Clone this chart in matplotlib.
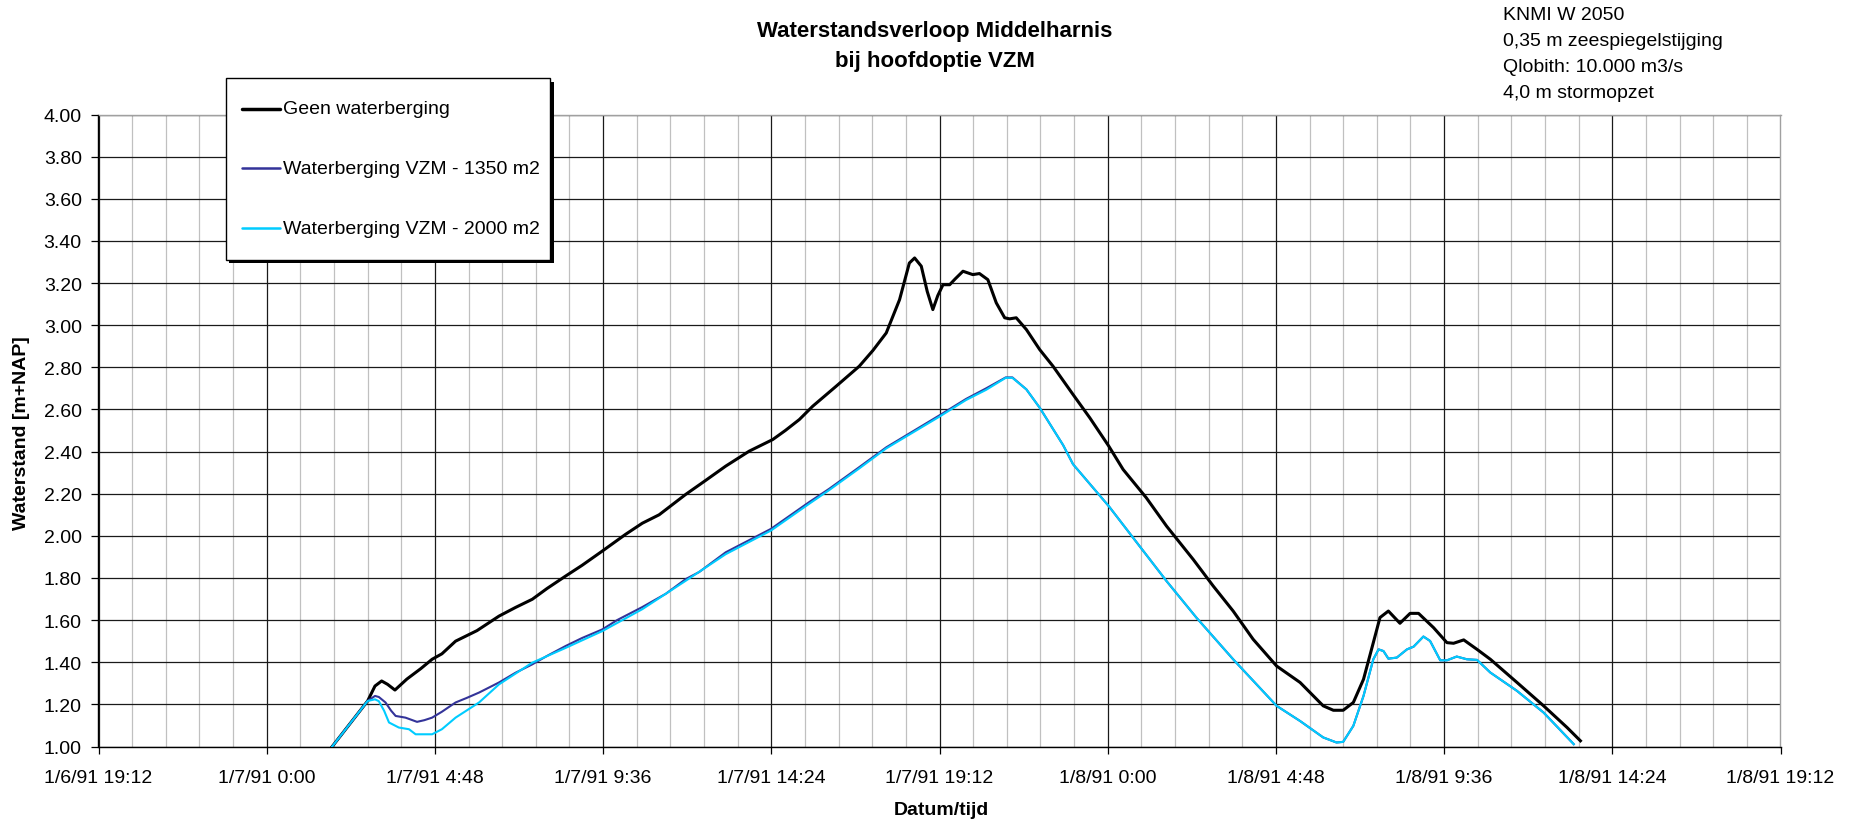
import datetime as dt
import matplotlib
matplotlib.use("Agg")
import matplotlib.pyplot as plt
import matplotlib.dates as mdates
from matplotlib.patches import Rectangle
from matplotlib.lines import Line2D
from matplotlib.ticker import FixedLocator, FuncFormatter, MultipleLocator

plt.rcParams['font.family'] = ['Liberation Sans', 'DejaVu Sans']

# ---------------- data (hours after 1/7/91 0:00, water level m+NAP) ----------------
hours_black = [1.87, 2.88, 3.09, 3.28, 3.45, 3.66, 4.0, 4.4, 4.72, 5.0, 5.39, 6.0, 6.63, 7.1,
               7.58, 8.0, 8.53, 9.0, 9.58, 10.24, 10.72, 11.2, 11.96, 12.5, 13.1, 13.77,
               14.44, 14.8, 15.2, 15.58, 16.25, 16.91, 17.3, 17.68, 18.06, 18.34, 18.49,
               18.68, 18.85, 19.01, 19.15, 19.3, 19.49, 19.65, 19.87, 20.15, 20.34, 20.58,
               20.82, 21.06, 21.2, 21.39, 21.68, 22.06, 22.44, 23.01, 23.49, 24.03, 24.44,
               25.1, 25.68, 26.44, 27.01, 27.58, 28.15, 28.82, 29.49, 30.15, 30.44, 30.72,
               31.01, 31.3, 31.58, 31.77, 32.01, 32.34, 32.63, 32.87, 33.3, 33.68, 33.87,
               34.16, 34.54, 34.92, 35.68, 36.44, 37.11, 37.49]
level_black = [1.00, 1.216, 1.287, 1.311, 1.295, 1.268, 1.32, 1.37, 1.414, 1.44, 1.50, 1.55,
               1.619, 1.66, 1.699, 1.75, 1.809, 1.86, 1.928, 2.007, 2.06, 2.10, 2.197, 2.26,
               2.331, 2.402, 2.457, 2.50, 2.552, 2.615, 2.71, 2.805, 2.88, 2.963, 3.121,
               3.295, 3.319, 3.28, 3.16, 3.074, 3.14, 3.192, 3.192, 3.22, 3.256, 3.24, 3.245,
               3.216, 3.106, 3.035, 3.03, 3.035, 2.979, 2.884, 2.805, 2.671, 2.56, 2.426,
               2.315, 2.181, 2.046, 1.888, 1.762, 1.643, 1.509, 1.382, 1.304, 1.193, 1.172,
               1.172, 1.209, 1.319, 1.493, 1.612, 1.643, 1.585, 1.632, 1.632, 1.564, 1.493,
               1.49, 1.506, 1.461, 1.414, 1.304, 1.193, 1.09, 1.027]

hours_1350 = [1.87, 2.88, 3.09, 3.2, 3.39, 3.55, 3.68, 3.96, 4.29, 4.5, 4.72, 5.0, 5.39, 5.7,
              6.06, 6.63, 7.1, 7.58, 8.0, 8.53, 9.0, 9.58, 10.0, 10.72, 11.39, 11.96, 12.34,
              13.1, 14.39, 15.48, 16.05, 16.91, 17.68, 19.2, 19.96, 20.53, 21.09, 21.28,
              21.68, 22.06, 22.73, 23.01, 24.03, 24.91, 25.68, 26.53, 27.58, 28.82, 29.49,
              30.15, 30.53, 30.72, 31.01, 31.3, 31.58, 31.73, 31.87, 32.01, 32.25, 32.54,
              32.73, 33.01, 33.2, 33.49, 33.68, 33.96, 34.25, 34.54, 34.92, 35.68, 36.44,
              37.3]
level_1350 = [1.00, 1.216, 1.24, 1.235, 1.209, 1.17, 1.145, 1.137, 1.117, 1.125, 1.137, 1.165,
              1.209, 1.23, 1.256, 1.304, 1.35, 1.39, 1.43, 1.477, 1.515, 1.556, 1.60, 1.662,
              1.725, 1.795, 1.828, 1.922, 2.033, 2.16, 2.223, 2.326, 2.42, 2.572, 2.65,
              2.70, 2.752, 2.752, 2.695, 2.608, 2.43, 2.34, 2.141, 1.951, 1.785, 1.612,
              1.414, 1.193, 1.121, 1.043, 1.019, 1.022, 1.098, 1.24, 1.414, 1.461, 1.453,
              1.417, 1.422, 1.461, 1.474, 1.522, 1.501, 1.409, 1.409, 1.427, 1.414, 1.411,
              1.351, 1.264, 1.161, 1.011]

hours_2000 = [1.87, 2.88, 3.09, 3.2, 3.35, 3.49, 3.77, 4.06, 4.25, 4.72, 5.0, 5.39, 6.06,
              6.63, 7.58, 8.53, 9.58, 10.72, 11.96, 13.1, 14.39, 15.48, 16.05, 16.91, 17.68,
              19.2, 19.96, 20.53, 21.09, 21.28, 21.68, 22.06, 22.73, 23.01, 24.03, 24.91,
              25.68, 26.53, 27.58, 28.82, 29.49, 30.15, 30.53, 30.72, 31.01, 31.3, 31.58,
              31.73, 31.87, 32.01, 32.25, 32.54, 32.73, 33.01, 33.2, 33.49, 33.68, 33.96,
              34.25, 34.54, 34.92, 35.68, 36.44, 37.3]
level_2000 = [1.00, 1.216, 1.224, 1.215, 1.17, 1.114, 1.09, 1.082, 1.058, 1.058, 1.082, 1.137,
              1.209, 1.295, 1.398, 1.468, 1.548, 1.652, 1.787, 1.913, 2.025, 2.152, 2.217,
              2.32, 2.415, 2.566, 2.645, 2.693, 2.75, 2.75, 2.695, 2.608, 2.43, 2.34, 2.141,
              1.951, 1.785, 1.612, 1.414, 1.193, 1.121, 1.043, 1.019, 1.022, 1.098, 1.24,
              1.414, 1.461, 1.453, 1.417, 1.422, 1.461, 1.474, 1.522, 1.501, 1.409, 1.409,
              1.427, 1.414, 1.411, 1.351, 1.264, 1.161, 1.011]

series_labels = ["Geen waterberging", "Waterberging VZM - 1350 m2", "Waterberging VZM - 2000 m2"]
series_colors = ["#000000", "#333399", "#00CCFF"]
series_widths = [2.2, 1.5, 1.5]

title_lines = ["Waterstandsverloop Middelharnis", "bij hoofdoptie VZM"]
info_lines = ["KNMI W 2050", "0,35 m zeespiegelstijging", "Qlobith: 10.000 m3/s", "4,0 m stormopzet"]
y_ticks = [1.00, 1.20, 1.40, 1.60, 1.80, 2.00, 2.20, 2.40, 2.60, 2.80, 3.00, 3.20, 3.40, 3.60, 3.80, 4.00]

base = dt.datetime(1991, 1, 7, 0, 0)
x_start = dt.datetime(1991, 1, 6, 19, 12)
x_end = dt.datetime(1991, 1, 8, 19, 12)
major_step_h = 4.8
minor_step_h = 0.96

# ---------------- layout ----------------
W, H = 1865, 829
fig = plt.figure(figsize=(W / 100, H / 100), dpi=100)

def fx(x):
    return x / W

def fy(y):
    return 1 - y / H

ax_l, ax_r, ax_t, ax_b = 98.5, 1780.5, 115.5, 747.5
ax = fig.add_axes([fx(ax_l), fy(ax_b), (ax_r - ax_l) / W, (ax_b - ax_t) / H])

def to_num(hours):
    return [mdates.date2num(base + dt.timedelta(hours=h)) for h in hours]

all_series = [(hours_black, level_black), (hours_1350, level_1350), (hours_2000, level_2000)]
for (hh, vv), lab, col, lw in zip(all_series, series_labels, series_colors, series_widths):
    ax.plot(to_num(hh), vv, color=col, lw=lw, label=lab, solid_joinstyle='round', zorder=3)

x0 = mdates.date2num(x_start)
x1 = mdates.date2num(x_end)
ax.set_xlim(x0, x1)
ax.set_ylim(1.0, 4.0)

major = [x0 + k * major_step_h / 24 for k in range(11)]
minor = [x0 + k * minor_step_h / 24 for k in range(51)]
ax.xaxis.set_major_locator(FixedLocator(major))
ax.xaxis.set_minor_locator(FixedLocator(minor))

def fmt_date(v, pos=None):
    d = mdates.num2date(v) + dt.timedelta(seconds=30)
    return f"{d.month}/{d.day}/{d.strftime('%y')} {d.hour}:{d.minute:02d}"

ax.xaxis.set_major_formatter(FuncFormatter(fmt_date))
ax.yaxis.set_major_locator(FixedLocator(y_ticks))
ax.yaxis.set_major_formatter(FuncFormatter(lambda v, p: f"{v:.2f}"))

ax.set_axisbelow(True)
ax.grid(which='minor', axis='x', color='#c0c0c0', lw=0.9)
ax.grid(which='major', axis='both', color='#1a1a1a', lw=0.9)

for s in ['top', 'right']:
    ax.spines[s].set_color('#a0a0a0')
    ax.spines[s].set_linewidth(1.0)
for s in ['left', 'bottom']:
    ax.spines[s].set_color('#000000')
    ax.spines[s].set_linewidth(1.0)

ax.tick_params(axis='both', which='major', direction='out', length=5, width=0.9,
               color='#000000', labelsize=14)
ax.tick_params(axis='y', pad=7)
ax.tick_params(axis='x', pad=11)
ax.tick_params(axis='x', which='minor', length=0)

# titles and texts
fig.text(fx(935), fy(31.7), title_lines[0], ha='center', va='center', fontsize=16, fontweight='bold')
fig.text(fx(935), fy(61.7), title_lines[1], ha='center', va='center', fontsize=16, fontweight='bold')
for i, line in enumerate(info_lines):
    fig.text(fx(1503), fy(16 + 26 * i), line, ha='left', va='center', fontsize=14)

fig.text(fx(21.5), fy(433), "Waterstand [m+NAP]", rotation=90, ha='center', va='center',
         fontsize=14, fontweight='bold')
fig.text(fx(941), fy(811), "Datum/tijd", ha='center', va='center', fontsize=14, fontweight='bold')

# legend box (Excel style with shadow)
lg_l, lg_t, lg_r, lg_b = 226, 79.3, 550, 260.7
shadow = Rectangle((fx(lg_l + 3.5), fy(lg_b + 3.5)), (lg_r - lg_l) / W, (lg_b - lg_t) / H,
                   transform=fig.transFigure, facecolor='black', edgecolor='black', lw=0, zorder=5)
box = Rectangle((fx(lg_l), fy(lg_b)), (lg_r - lg_l) / W, (lg_b - lg_t) / H,
                transform=fig.transFigure, facecolor='white', edgecolor='black', lw=1.0, zorder=6)
fig.add_artist(shadow)
fig.add_artist(box)
entry_y = [110, 169, 229.3]
for yy, lab, col, lw in zip(entry_y, series_labels, series_colors, series_widths):
    fig.add_artist(Line2D([fx(242), fx(280)], [fy(yy), fy(yy)], transform=fig.transFigure,
                          color=col, lw=lw + 0.3, zorder=7, solid_capstyle='round'))
    fig.text(fx(283.5), fy(yy), lab, ha='left', va='center', fontsize=14, zorder=7)

fig.savefig("out.png", dpi=100)
